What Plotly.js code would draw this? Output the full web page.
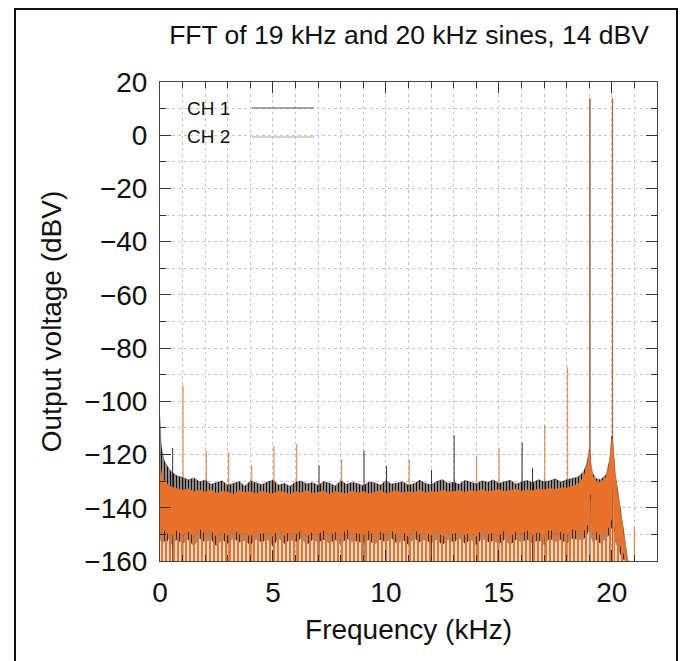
<!DOCTYPE html>
<html>
<head>
<meta charset="utf-8">
<script src="https://cdn.plot.ly/plotly-3.0.1.min.js"></script>
<style>html,body{margin:0;padding:0;background:#fff}#chart{width:693px;height:661px}</style>
</head>
<body>
<div id="chart"></div>
<script>
// ---- data (frequency in kHz, level in dBV) ----
var freq = [0,0.05,0.1,0.2,0.3,0.4,0.5,0.75,1,1.25,1.5,1.75,
  2,2.25,2.5,2.75,3,3.25,3.5,3.75,4,4.25,4.5,4.75,5,5.25,5.5,5.75,6,6.25,6.5,6.75,
  7,7.25,7.5,7.75,8,8.25,8.5,8.75,9,9.25,9.5,9.75,10,10.25,10.5,10.75,11,11.25,11.5,11.75,
  12,12.25,12.5,12.75,13,13.25,13.5,13.75,14,14.25,14.5,14.75,15,15.25,15.5,15.75,
  16,16.25,16.5,16.75,17,17.25,17.5,17.75,18,18.25,18.5,
  18.75,18.9,18.97,19,19.03,19.04,19.06,19.08,19.15,19.3,19.5,19.75,19.9,19.97,
  20,20.03,20.04,20.06,20.08,20.15,20.3,20.45,20.6,20.7,20.8];

// CH 1 noise floor: upper and lower edges of the trace
var ch1Top = [-106,-116,-119,-122.5,-124,-125.5,-126.5,-128,-128.5,-129.5,-128.8,-130.2,
  -129.6,-131.2,-130.4,-129.8,-131.5,-130.9,-130.1,-131.8,-129.9,-130.6,-131.3,-130.2,-129.7,-131.4,-130.8,-131.9,-130.3,-129.9,-131.1,-130.5,
  -131.6,-130.1,-130.7,-131.8,-129.8,-131.2,-130.4,-130.9,-131.7,-130.2,-130.6,-131.4,-129.9,-131.1,-130.7,-130.2,-131.5,-130.9,-129.6,-130.8,
  -131.3,-130.1,-129.4,-130.9,-130.3,-131.2,-129.7,-130.5,-131,-129.8,-130.4,-129.5,-130.9,-130.2,-129.6,-131.1,
  -130.3,-129.7,-130.6,-129.4,-130.2,-129.8,-129.1,-130.3,-129.5,-128.9,-128.4,
  -126.5,-123,-120,-118,-118.5,-119.5,-121.5,-123.5,-127,-129,-129.5,-127.5,-122,-116,
  -113,-113.5,-114.5,-117.5,-120.5,-127,-135.5,-143.5,-153,-160,-160];
var ch1Bot = [-153,-152,-154,-152.5,-153,-151.5,-154,-152,-153.5,-152,-154.5,-151.5,
  -153,-152,-154.5,-152,-153.5,-151.5,-153,-152.5,-154,-152,-153,-152,-154.5,-151.5,-153.5,-152,-153,-151.5,-154,-152,
  -153,-152,-153.5,-152,-154,-151.5,-153,-152.5,-153.5,-152,-154,-152,-153,-151.5,-153.5,-152,-154,-151.5,-153,-152,
  -153.5,-152,-154,-152,-153,-151.5,-153.5,-152,-154,-151.5,-153,-152.5,-153.5,-152,-154,-152,
  -153,-152,-153.5,-152,-154,-151.5,-153,-152,-153.5,-151.5,-152,
  -152,-150,-149,-148,-149,-137,-137,-151,-153,-152,-153.5,-151.5,-150,-148,
  -147,-147,-135,-135,-149,-153,-156,-159,-160,-160,-160];

// CH 2 noise floor: upper edge, lower edge of the solid band, deepest dips
var ch2Top = [-124,-127,-128.5,-130,-131,-131.8,-132.2,-132.8,-133.4,-132.9,-134,-133.2,
  -134.2,-133.1,-134.6,-133.8,-134.1,-134.9,-133.5,-134.3,-133.9,-134.8,-133.6,-134.4,-134.7,-133.7,-134.2,-135,-133.8,-134.5,-133.4,-134.6,
  -134.1,-133.7,-134.9,-133.9,-134.3,-134.8,-133.6,-134.4,-133.8,-134.7,-134.2,-133.5,-134.6,-134,-133.7,-134.5,-133.9,-134.3,-133.4,-134.4,
  -133.8,-134.2,-133.3,-134.1,-133.9,-133.5,-134.2,-133.4,-133.9,-133.2,-134,-133.6,-133.1,-133.9,-133.4,-133,
  -133.7,-133.2,-133.6,-132.9,-133.3,-132.7,-133.1,-132.5,-132.6,-131.9,-131.2,
  -128.5,-124.5,-120.5,-118.5,-119,-120,-122,-124.5,-128,-130,-130.5,-128.5,-123,-117,
  -114,-114.5,-115.5,-118.5,-121.5,-128,-137,-145,-154,-160,-160];
var ch2Bot = [-150,-149,-150.5,-148.5,-150,-149,-151,-148.5,-150.5,-149,-151,-148,
  -150,-148.5,-151,-149,-150.5,-148,-150,-149.5,-151,-148.5,-150,-149,-151,-148,-150.5,-149,-150,-148.5,-151,-149,
  -150,-148.5,-150.5,-149,-151,-148,-150,-149.5,-150.5,-148.5,-151,-149,-150,-148.5,-150.5,-149,-151,-148,-150,-149,
  -150.5,-148.5,-151,-149,-150,-148.5,-150.5,-149,-151,-148,-150,-149.5,-150.5,-148.5,-151,-149,
  -150,-148.5,-150.5,-149,-151,-148,-150,-149,-150.5,-148,-149,
  -149,-147,-146,-145,-146,-135,-135,-148,-150,-149,-150.5,-148.5,-147,-145,
  -144,-144,-133,-133,-146,-150,-153,-156,-159,-160,-160];
var ch2Low = [-160,-160,-160,-160,-160,-160,-160,-160,-160,-160,-160,-160,
  -160,-160,-160,-160,-160,-160,-160,-160,-160,-160,-160,-160,-160,-160,-160,-160,-160,-160,-160,-160,
  -160,-160,-160,-160,-160,-160,-160,-160,-160,-160,-160,-160,-160,-160,-160,-160,-160,-160,-160,-160,
  -160,-160,-160,-160,-160,-160,-160,-160,-160,-160,-160,-160,-160,-160,-160,-160,
  -160,-160,-160,-160,-160,-160,-160,-160,-160,-160,-160,
  -160,-160,-160,-160,-160,-135,-135,-160,-160,-160,-160,-160,-160,-160,
  -160,-160,-133,-133,-160,-160,-160,-160,-160,-160,-160];

// discrete spectral lines (frequency kHz, peak dBV)
var ch1LineFreq = [0.56, 7.04, 9.03, 10.03, 12.02, 13.02, 16.03, 16.49, 19.03, 20.03];
var ch1LinePeak = [-117.5, -124, -118.5, -124.3, -125.8, -112.7, -115.5, -125, 13.8, 13.8];
var ch2LineFreq = [1.02, 2.05, 3.04, 4.06, 5.04, 6.05, 8.04, 11.03, 14.01, 15.01, 17.03, 18.04, 19.03, 20.03, 21.0];
var ch2LinePeak = [-94, -118.5, -119, -124, -116.7, -116, -121.7, -121.7, -120.5, -117.7, -109, -87, 13.8, 13.8, -147];

var seriesNames = ['CH 1', 'CH 2'];
var titleText = 'FFT of 19 kHz and 20 kHz sines, 14 dBV';
var xTitle = 'Frequency (kHz)';
var yTitle = 'Output voltage (dBV)';

// ---- styling ----
var BLACK = '#111111';
var ORANGE = '#E8722A';
var FONT = 'Liberation Sans, Arial, Helvetica, sans-serif';
var LINE_BASE = -160;

function spikes(fs, ps) {
  var x = [], y = [];
  for (var i = 0; i < fs.length; i++) { x.push(fs[i], fs[i], null); y.push(LINE_BASE, ps[i], null); }
  return {x: x, y: y};
}
var s1 = spikes(ch1LineFreq, ch1LinePeak);
var s2 = spikes(ch2LineFreq, ch2LinePeak);

var traces = [
  // discrete lines first, the noise bands paint over their feet
  {x: s1.x, y: s1.y, mode: 'lines', line: {width: 1, color: '#333'}, name: seriesNames[0], showlegend: false, hoverinfo: 'skip'},
  {x: s2.x, y: s2.y, mode: 'lines', line: {width: 1.3, color: ORANGE}, opacity: 0.75, name: seriesNames[1], showlegend: false, hoverinfo: 'skip'},
  // CH 1 band
  {x: freq, y: ch1Bot, mode: 'lines', line: {width: 0, color: BLACK}, showlegend: false, hoverinfo: 'skip'},
  {x: freq, y: ch1Top, mode: 'lines', fill: 'tonexty', line: {width: 0.5, color: 'rgba(17,17,17,0.6)'},
   fillpattern: {shape: '|', fgcolor: BLACK, bgcolor: 'rgba(60,40,30,0.35)', size: 3, solidity: 0.5},
   showlegend: false, hoverinfo: 'skip'},
  // CH 2 band
  {x: freq, y: ch2Low, mode: 'lines', line: {width: 0, color: ORANGE}, showlegend: false, hoverinfo: 'skip'},
  {x: freq, y: ch2Bot, mode: 'lines', fill: 'tonexty', line: {width: 0, color: ORANGE},
   fillpattern: {shape: '|', fgcolor: ORANGE, bgcolor: 'rgba(0,0,0,0)', size: 4, solidity: 0.62},
   showlegend: false, hoverinfo: 'skip'},
  {x: freq, y: ch2Top, mode: 'lines', fill: 'tonexty', fillcolor: ORANGE, line: {width: 0.6, color: ORANGE}, showlegend: false, hoverinfo: 'skip'}
];

// plot area in pixels: x 160..657, y 82..561
var L = 160, R = 657, T = 82, B = 561, W = 693, H = 661;
function px(xp) { return (xp - L) / (R - L); }
function py(yp) { return (B - yp) / (B - T); }

var axisCommon = {
  ticks: 'inside', ticklen: 11, tickwidth: 1, tickcolor: '#333',
  mirror: 'allticks', showline: true, linecolor: '#444', linewidth: 1,
  showgrid: true, gridcolor: '#c8c8c8', griddash: 'dot', gridwidth: 1,
  zeroline: false, automargin: false,
  tickfont: {family: FONT, size: 28, color: '#111'},
  ticklabelstandoff: 6
};

var layout = {
  width: W, height: H,
  margin: {l: L, r: W - R, t: T, b: H - B, pad: 0},
  paper_bgcolor: '#fff', plot_bgcolor: '#fff',
  showlegend: false,
  font: {family: FONT, color: '#111'},
  title: {text: titleText, font: {family: FONT, size: 26.5, color: '#111'},
          x: 409 / W, xanchor: 'center', y: 1 - 35 / H, yanchor: 'middle', xref: 'container', yref: 'container'},
  xaxis: Object.assign({}, axisCommon, {
    range: [0, 22], tick0: 0, dtick: 5,
    minor: {dtick: 1, ticks: 'inside', ticklen: 6, tickcolor: '#333', showgrid: true, gridcolor: '#c8c8c8', griddash: 'dot'},
    title: {text: xTitle, font: {family: FONT, size: 28, color: '#111'}, standoff: 12}
  }),
  yaxis: Object.assign({}, axisCommon, {
    range: [-160, 20], tick0: 0, dtick: 20,
    minor: {dtick: 10, ticks: 'inside', ticklen: 6, tickcolor: '#333', showgrid: true, gridcolor: '#c8c8c8', griddash: 'dot'},
    title: {text: yTitle, font: {family: FONT, size: 28, color: '#111'}, standoff: 14}
  }),
  annotations: [
    {text: seriesNames[0], xref: 'paper', yref: 'paper', x: px(185), y: py(108), xanchor: 'left', yanchor: 'middle', showarrow: false, font: {family: FONT, size: 19, color: '#111'}},
    {text: seriesNames[1], xref: 'paper', yref: 'paper', x: px(185), y: py(136), xanchor: 'left', yanchor: 'middle', showarrow: false, font: {family: FONT, size: 19, color: '#111'}}
  ],
  shapes: [
    {type: 'line', xref: 'paper', yref: 'paper', x0: px(252), x1: px(314), y0: py(108), y1: py(108), line: {color: '#555', width: 1}},
    {type: 'line', xref: 'paper', yref: 'paper', x0: px(252), x1: px(314), y0: py(137), y1: py(137), line: {color: '#c99a82', width: 1}},
    {type: 'rect', xref: 'paper', yref: 'paper', x0: px(15), x1: px(677), y0: py(9), y1: py(700), line: {color: '#111', width: 2}, fillcolor: 'rgba(0,0,0,0)', layer: 'above'}
  ]
};

Plotly.newPlot('chart', traces, layout, {displayModeBar: false, staticPlot: true});
</script>
</body>
</html>
